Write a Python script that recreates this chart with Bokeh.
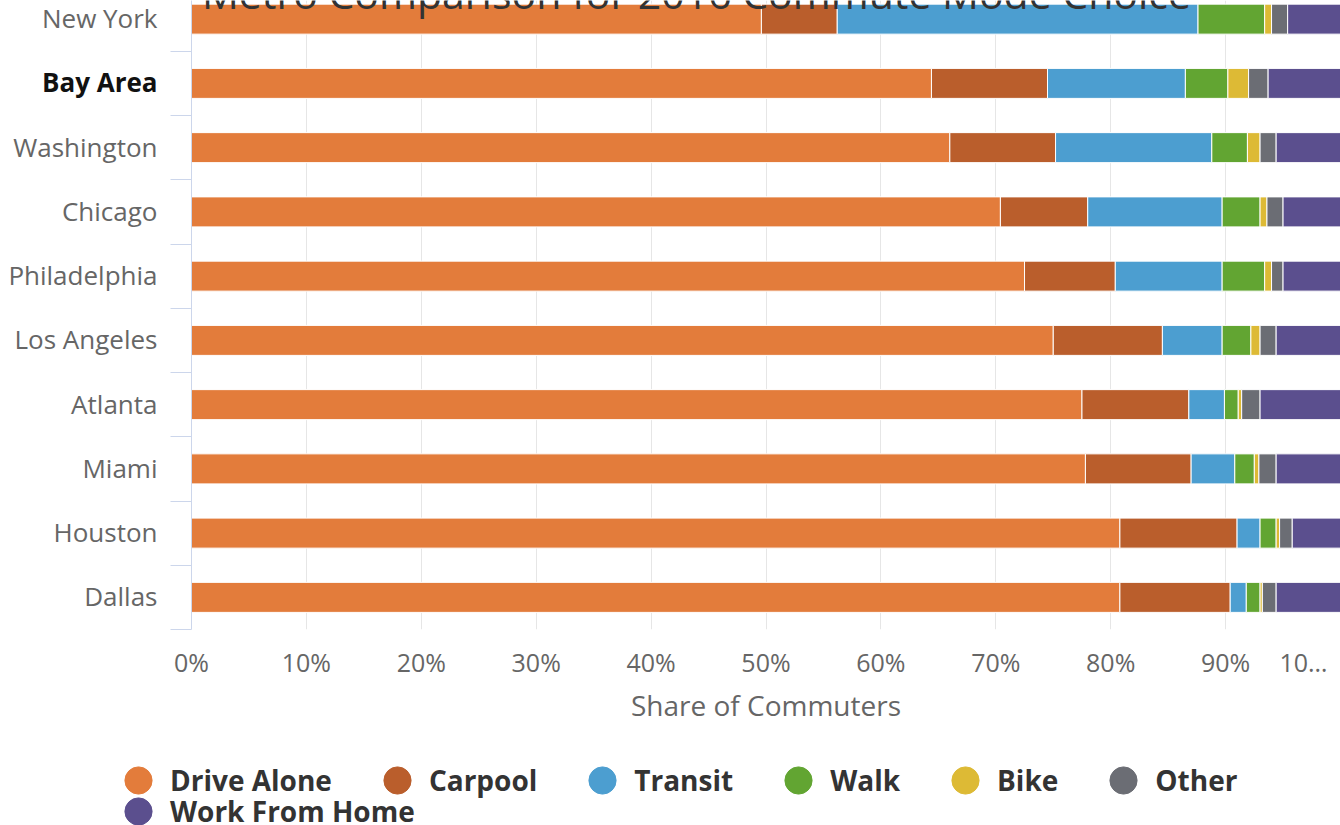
from bokeh.plotting import figure
from bokeh.models import Range1d, FixedTicker, ColumnDataSource, Legend, LegendItem
from bokeh.layouts import column, row
from bokeh.core.properties import value, field
from bokeh.embed import file_html
from bokeh.resources import INLINE

# ---------------- data ----------------
title_text = "Metro Comparison for 2016 Commute Mode Choice"
cities = ["New York", "Bay Area", "Washington", "Chicago", "Philadelphia",
          "Los Angeles", "Atlanta", "Miami", "Houston", "Dallas"]
highlight_city = "Bay Area"

modes = ["Drive Alone", "Carpool", "Transit", "Walk", "Bike", "Other", "Work From Home"]
drive_alone = [49.6, 64.4, 66.0, 70.4, 72.5, 75.0, 77.5, 77.8, 80.8, 80.8]
carpool     = [6.6, 10.1, 9.2, 7.6, 7.9, 9.5, 9.3, 9.2, 10.2, 9.6]
transit     = [31.4, 12.0, 13.6, 11.7, 9.3, 5.2, 3.1, 3.8, 2.0, 1.4]
walk        = [5.8, 3.7, 3.1, 3.3, 3.7, 2.5, 1.2, 1.7, 1.4, 1.2]
bike        = [0.6, 1.8, 1.1, 0.6, 0.6, 0.8, 0.3, 0.4, 0.3, 0.2]
other       = [1.4, 1.7, 1.4, 1.4, 1.0, 1.4, 1.6, 1.5, 1.1, 1.2]
work_home   = [4.6, 6.3, 5.6, 5.0, 5.0, 5.6, 7.0, 5.6, 4.2, 5.6]

x_tick_values = [0, 10, 20, 30, 40, 50, 60, 70, 80, 90, 100]
x_tick_labels = ["0%", "10%", "20%", "30%", "40%", "50%", "60%", "70%", "80%", "90%", "10\u2026"]
x_axis_title = "Share of Commuters"

# ---------------- style ----------------
colors = ["#E37C3B", "#BA5E2C", "#4C9ED0", "#62A532", "#DDBA35", "#6B6D74", "#5B4F8E"]
FONT = "Open Sans"
n = len(cities)

series = [drive_alone, carpool, transit, walk, bike, other, work_home]
data = dict(city=cities, y=[n - i - 0.5 for i in range(n)], lx=[1.0] * n)
for m, s in zip(modes, series):
    data[m] = s
data["style"] = ["bold" if c == highlight_city else "normal" for c in cities]
data["tcolor"] = ["#111111" if c == highlight_city else "#666666" for c in cities]
source = ColumnDataSource(data)

y_top = n - 0.21          # top band is cut off, as in the reference
y_range = Range1d(0, y_top)

LEFT_W = 160
TOP_H = 729
BOTTOM_B = 100

# ---------------- main plot ----------------
p = figure(width=1340 - LEFT_W, height=TOP_H, x_range=Range1d(0, 100), y_range=y_range,
           output_backend="svg", toolbar_location=None,
           min_border_left=31, min_border_right=0, min_border_top=0,
           min_border_bottom=BOTTOM_B)
p.outline_line_color = None

p.hbar_stack(modes, y="y", height=0.467, color=colors, source=source,
             line_color="white", line_width=1)

xt = FixedTicker(ticks=x_tick_values)
p.xaxis.ticker = xt
overrides = {}
for v, lab in zip(x_tick_values, x_tick_labels):
    overrides[v] = lab + ("\u00a0" * 2 if v == x_tick_values[-1] else "")
p.xaxis.major_label_overrides = overrides
p.xaxis.axis_line_color = None
p.xaxis.major_tick_line_color = None
p.xaxis.minor_tick_line_color = None
p.xaxis.major_tick_out = 0
p.xaxis.major_tick_in = 0
p.xaxis.major_label_standoff = 15
p.xaxis.major_label_text_font = FONT
p.xaxis.major_label_text_font_size = "25px"
p.xaxis.major_label_text_color = "#666666"
p.xaxis.axis_label = x_axis_title
p.xaxis.axis_label_text_font = FONT
p.xaxis.axis_label_text_font_size = "28px"
p.xaxis.axis_label_text_font_style = "normal"
p.xaxis.axis_label_text_color = "#666666"
p.xaxis.axis_label_standoff = 4

p.xgrid.ticker = xt
p.xgrid.grid_line_color = "#e6e6e6"
p.ygrid.visible = False

p.yaxis.ticker = FixedTicker(ticks=[], minor_ticks=list(range(n + 1)))
p.yaxis.axis_line_color = "#ccd6eb"
p.yaxis.minor_tick_line_color = "#ccd6eb"
p.yaxis.minor_tick_out = 21
p.yaxis.minor_tick_in = 0
p.yaxis.major_tick_out = 0
p.yaxis.major_tick_line_color = None
p.yaxis.major_label_standoff = 0
p.yaxis.major_label_text_alpha = 0

# title, cut off at the top edge like in the reference
tsrc = ColumnDataSource(dict(x=[43.95], y=[y_top + 0.12], t=[title_text]))
p.text(x="x", y="y", text="t", source=tsrc, text_align="center", text_baseline="middle",
       text_font=value(FONT), text_font_size="41px", text_color="#333333")

# ---------------- category labels ----------------
lab = figure(width=LEFT_W, height=TOP_H, x_range=Range1d(0, 1), y_range=y_range,
             output_backend="svg", toolbar_location=None, x_axis_type=None, y_axis_type=None,
             min_border_left=0, min_border_right=0, min_border_top=0,
             min_border_bottom=BOTTOM_B)
lab.outline_line_color = None
lab.grid.visible = False
lab.text(x="lx", y="y", text="city", source=source, x_offset=-3, y_offset=-1,
         text_align="right", text_baseline="middle", text_font=value(FONT),
         text_font_size="26px", text_font_style=field("style"), text_color=field("tcolor"))

# ---------------- legend ----------------
leg = figure(width=1340, height=825 - TOP_H, x_range=Range1d(0, 1), y_range=Range1d(0, 1),
             output_backend="svg", toolbar_location=None, x_axis_type=None, y_axis_type=None,
             min_border_left=0, min_border_right=0, min_border_top=0, min_border_bottom=0)
leg.outline_line_color = None
leg.grid.visible = False

items = []
for m, c in zip(modes, colors):
    r = leg.ellipse(x=[-5], y=[-5], width=10, height=10, width_units="screen",
                    height_units="screen", fill_color=c, line_color=c)
    items.append(LegendItem(label=m, renderers=[r]))


def make_legend(its, loc):
    return Legend(items=its, location=loc, orientation="horizontal",
                  glyph_width=34, glyph_height=38, label_standoff=15, spacing=48,
                  padding=0, margin=0, border_line_alpha=0, background_fill_alpha=0,
                  label_text_font=FONT, label_text_font_size="28px",
                  label_text_font_style="bold", label_text_color="#333333",
                  label_height=38)


leg.add_layout(make_legend(items[:6], (121, 26)))
leg.add_layout(make_legend(items[6:], (121, -5)))

layout = column(row(lab, p, spacing=0), leg, spacing=0)
open("out.html", "w").write(file_html(layout, INLINE))
